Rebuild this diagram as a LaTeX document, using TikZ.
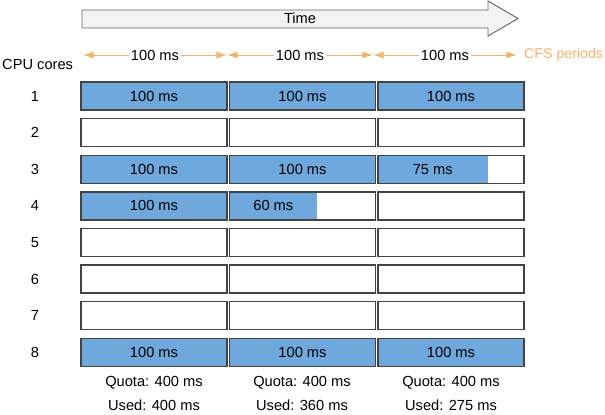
\documentclass[tikz,border=0pt]{standalone}
\usepackage{fontspec}
\setmainfont{Liberation Sans}
\usepackage{tikz}
\usetikzlibrary{arrows.meta,positioning}

\definecolor{cpublue}{HTML}{6FA8DC}
\definecolor{cfsorange}{HTML}{F6B26B}
\definecolor{cellline}{HTML}{434343}
\definecolor{timefill}{HTML}{F3F3F3}
\definecolor{timeline}{HTML}{666666}

\begin{document}
\begin{tikzpicture}[x=0.03cm,y=-0.03cm,font=\fontsize{12.5}{15}\selectfont,
  cell/.style={draw=cellline,line width=1.2pt},
  period/.style={draw=cfsorange,line width=0.8pt,{Latex[length=9pt,width=6pt]}-{Latex[length=9pt,width=6pt]}},
  plabel/.style={fill=white,inner sep=1.5pt}]
\useasboundingbox (0,0) rectangle (605,415);

% time arrow
\draw[fill=timefill,draw=timeline,line width=0.8pt] (82,10) -- (488,10) -- (488,1) -- (518,18.5)
    -- (488,36) -- (488,28) -- (82,28) -- cycle;
\node (time) at (300,18.5) {Time};

% CFS periods
\coordinate (p0) at (83,55);
\coordinate (p1) at (227,55);
\coordinate (p2) at (373,55);
\coordinate (p3) at (517,55);
\draw[period] (p0) -- node[plabel] (per1) {100 ms} (p1);
\draw[period] (p1) -- node[plabel] (per2) {100 ms} (p2);
\draw[period] (p2) -- node[plabel] (per3) {100 ms} (p3);
\node[text=cfsorange,anchor=west,inner sep=0pt,font=\fontsize{12.1}{15}\selectfont] (cfs) at (524,55) {CFS periods};

\node[anchor=west,inner sep=0pt] (cores) at (2,64) {CPU cores};

% cores and used time per period
\foreach \r/\a/\b/\c in {1/100/100/100, 2/0/0/0, 3/100/100/75, 4/100/60/0,
                         5/0/0/0, 6/0/0/0, 7/0/0/0, 8/100/100/100} {
  \pgfmathsetmacro{\yt}{82+(\r-1)*36.6}
  \node (core\r) at (35,\yt+14) {\r};
  \foreach \col/\xl/\v in {1/81/\a, 2/229.5/\b, 3/378/\c} {
    \ifnum\v>0
      \fill[cpublue] (\xl,\yt) rectangle ++(1.46*\v,28);
      \node (used\r\col) at (\xl+0.73*\v,\yt+14) {\v{} ms};
    \fi
    \draw[cell] (\xl,\yt) rectangle ++(146,28);
  }
}

% quota per period
\node (quota1) at (154,383) {Quota: 400 ms};
\node (quota2) at (302,383) {Quota: 400 ms};
\node (quota3) at (451,383) {Quota: 400 ms};
\node (sum1) at (154,405) {Used: 400 ms};
\node (sum2) at (302,405) {Used: 360 ms};
\node (sum3) at (451,405) {Used: 275 ms};
\end{tikzpicture}
\end{document}
